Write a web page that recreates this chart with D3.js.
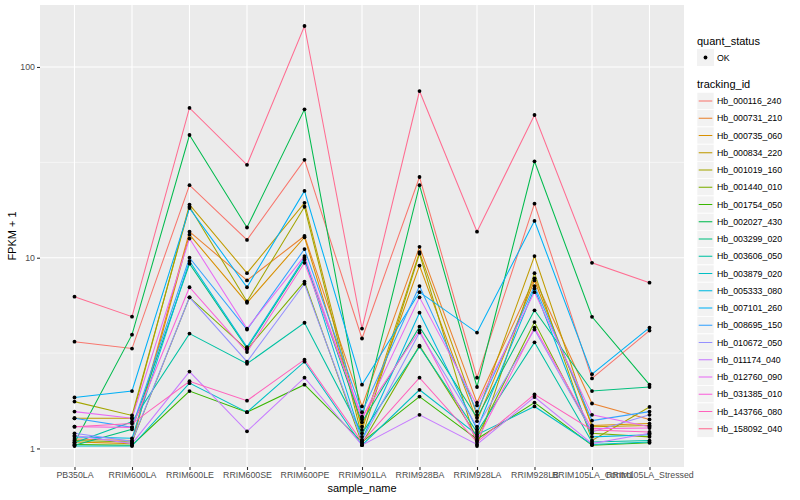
<!DOCTYPE html>
<html>
<head>
<meta charset="utf-8">
<script src="https://cdn.jsdelivr.net/npm/d3@7"></script>
<style>
  body { margin: 0; background: #fff; }
  text { font-family: "Liberation Sans", Arial, sans-serif; }
</style>
</head>
<body>
<div id="chart"></div>
<script>
// samples on the x axis
var samples = ["PB350LA", "RRIM600LA", "RRIM600LE", "RRIM600SE", "RRIM600PE", "RRIM901LA",
  "RRIM928BA", "RRIM928LA", "RRIM928LB", "RRIM105LA_Control", "RRIM105LA_Stressed"];

var trackingIds = ["Hb_000116_240", "Hb_000731_210", "Hb_000735_060", "Hb_000834_220",
  "Hb_001019_160", "Hb_001440_010", "Hb_001754_050", "Hb_002027_430", "Hb_003299_020",
  "Hb_003606_050", "Hb_003879_020", "Hb_005333_080", "Hb_007101_260", "Hb_008695_150",
  "Hb_010672_050", "Hb_011174_040", "Hb_012760_090", "Hb_031385_010", "Hb_143766_080",
  "Hb_158092_040"];

// FPKM + 1, one row per tracking_id, columns in sample order
var fpkm = [
  [3.63, 3.34, 24, 12.4, 32.6, 3.77, 26.5, 2.35, 19.2, 2.33, 4.15],
  [1.12, 1.1, 13.7, 7.6, 13, 1.66, 11.4, 1.74, 7.8, 1.72, 1.42],
  [1.08, 1.06, 13.2, 5.8, 12.8, 1.3, 9.1, 1.39, 7.6, 1.32, 1.35],
  [1.44, 1.44, 19, 8.3, 19.4, 1.25, 10.7, 1.5, 10.2, 1.3, 1.32],
  [1.76, 1.49, 18.5, 5.9, 18.5, 1.15, 10.5, 1.03, 8.3, 1.1, 1.65],
  [1.1, 1.08, 6.2, 3.3, 7.5, 1.06, 3.46, 1.15, 4.6, 1.2, 1.15],
  [1.05, 1.04, 2.0, 1.55, 2.16, 1.08, 1.87, 1.12, 1.74, 1.04, 1.07],
  [1.07, 3.95, 44, 14.4, 60, 1.45, 24, 2.1, 32, 4.9, 2.16],
  [1.04, 1.26, 9.3, 3.35, 9.8, 1.37, 4.35, 1.45, 5.3, 2.0, 2.1],
  [1.07, 1.38, 4.0, 2.78, 4.56, 1.2, 3.42, 1.22, 3.6, 1.08, 1.1],
  [1.03, 1.03, 2.2, 1.55, 2.85, 1.04, 2.03, 1.18, 1.66, 1.05, 1.08],
  [1.15, 1.13, 9.6, 3.4, 10, 1.11, 5.15, 1.26, 6.9, 1.15, 1.18],
  [1.85, 2.0, 18.2, 7.0, 22.4, 2.16, 6.6, 4.05, 15.6, 2.45, 4.3],
  [1.44, 1.29, 10, 4.2, 11.1, 1.55, 7.1, 1.56, 7.1, 1.4, 1.56],
  [1.2, 1.09, 6.2, 2.85, 7.3, 1.1, 4.05, 1.3, 4.2, 1.22, 1.5],
  [1.17, 1.06, 2.53, 1.23, 2.35, 1.04, 1.5, 1.05, 1.86, 1.06, 1.2],
  [1.56, 1.44, 12.6, 4.25, 10.2, 1.42, 6.2, 1.68, 6.6, 1.5, 1.3],
  [1.3, 1.29, 7.0, 3.2, 9.4, 1.47, 4.15, 1.1, 4.3, 1.27, 1.28],
  [1.3, 1.35, 2.25, 1.78, 2.92, 1.08, 2.35, 1.08, 1.92, 1.25, 1.22],
  [6.25, 4.91, 61, 30.7, 164, 4.25, 74.8, 13.7, 56, 9.4, 7.4]
];

var yTicks = [1, 10, 100];
var yMinor = [Math.sqrt(10), Math.sqrt(1000)];

// ggplot hue palette for 20 levels
var palette = ["#F8766D", "#EA8331", "#D89000", "#C09B00", "#A3A500", "#7CAE00", "#39B600",
  "#00BB4E", "#00BF7D", "#00C1A3", "#00BFC4", "#00BAE0", "#00B0F6", "#35A2FF", "#9590FF",
  "#C77CFF", "#E76BF3", "#FA62DB", "#FF62BC", "#FF6C91"];

var svgWidth = 800;
var svgHeight = 500;
var margin = { top: 5, right: 116, bottom: 33, left: 40 };
var width = svgWidth - margin.left - margin.right;
var height = svgHeight - margin.top - margin.bottom;

var svg = d3.select("#chart").append("svg")
  .attr("width", svgWidth)
  .attr("height", svgHeight);

var chartGroup = svg.append("g")
  .attr("transform", `translate(${margin.left}, ${margin.top})`);

// build long data
var series = trackingIds.map((id, i) => ({
  id: id,
  values: samples.map((s, j) => ({ sample: s, value: fpkm[i][j] }))
}));
var allValues = d3.merge(fpkm);

// scales (5% expansion in log space, like ggplot)
var lo = Math.log10(d3.min(allValues));
var hi = Math.log10(d3.max(allValues));
var pad = (hi - lo) * 0.05;
var yScale = d3.scaleLog()
  .domain([Math.pow(10, lo - pad), Math.pow(10, hi + pad)])
  .range([height, 0]);

var step = width / (samples.length - 1 + 1.2);
var xScale = d3.scalePoint()
  .domain(samples)
  .range([step * 0.6, width - step * 0.6]);

var color = d3.scaleOrdinal().domain(trackingIds).range(palette);

// panel background + grid
chartGroup.append("rect")
  .attr("width", width)
  .attr("height", height)
  .attr("fill", "#EBEBEB");

chartGroup.selectAll(".minor")
  .data(yMinor)
  .enter().append("line")
  .attr("x1", 0).attr("x2", width)
  .attr("y1", d => yScale(d)).attr("y2", d => yScale(d))
  .attr("stroke", "#fff").attr("stroke-width", 0.55);

chartGroup.selectAll(".hgrid")
  .data(yTicks)
  .enter().append("line")
  .attr("x1", 0).attr("x2", width)
  .attr("y1", d => yScale(d)).attr("y2", d => yScale(d))
  .attr("stroke", "#fff").attr("stroke-width", 1.1);

chartGroup.selectAll(".vgrid")
  .data(samples)
  .enter().append("line")
  .attr("x1", d => xScale(d)).attr("x2", d => xScale(d))
  .attr("y1", 0).attr("y2", height)
  .attr("stroke", "#fff").attr("stroke-width", 1.1);

// lines
var line = d3.line()
  .x(d => xScale(d.sample))
  .y(d => yScale(d.value));

chartGroup.selectAll(".series")
  .data(series)
  .enter().append("path")
  .attr("d", d => line(d.values))
  .attr("fill", "none")
  .attr("stroke", d => color(d.id))
  .attr("stroke-width", 1.05);

// points
chartGroup.selectAll(".pt")
  .data(d3.merge(series.map(s => s.values)))
  .enter().append("circle")
  .attr("cx", d => xScale(d.sample))
  .attr("cy", d => yScale(d.value))
  .attr("r", 1.9)
  .attr("fill", "#000");

// axes
var leftAxis = d3.axisLeft(yScale)
  .tickValues(yTicks)
  .tickFormat(d3.format("d"))
  .tickSize(3)
  .tickPadding(2);

var yAxis = chartGroup.append("g").call(leftAxis);
yAxis.select(".domain").remove();
yAxis.selectAll("line").attr("stroke", "#333").attr("stroke-width", 1.1);
yAxis.selectAll("text")
  .attr("fill", "#4D4D4D")
  .style("font-size", "8.8px")
  .style("font-family", "Liberation Sans, Arial, sans-serif");

var bottomAxis = d3.axisBottom(xScale)
  .tickSize(3)
  .tickPadding(2);

var xAxis = chartGroup.append("g")
  .attr("transform", `translate(0, ${height})`)
  .call(bottomAxis);
xAxis.select(".domain").remove();
xAxis.selectAll("line").attr("stroke", "#333").attr("stroke-width", 1.1);
xAxis.selectAll("text")
  .attr("fill", "#4D4D4D")
  .style("font-size", "8.8px")
  .style("font-family", "Liberation Sans, Arial, sans-serif");

// axis titles
svg.append("text")
  .attr("x", margin.left + width / 2)
  .attr("y", 492)
  .attr("text-anchor", "middle")
  .style("font-size", "11px")
  .attr("fill", "#000")
  .text("sample_name");

svg.append("text")
  .attr("transform", `translate(16, ${margin.top + height / 2}) rotate(-90)`)
  .attr("text-anchor", "middle")
  .style("font-size", "11px")
  .attr("fill", "#000")
  .text("FPKM + 1");

// legends
var legend = svg.append("g").attr("transform", "translate(697, 0)");

legend.append("text")
  .attr("x", 0).attr("y", 45)
  .style("font-size", "11px")
  .text("quant_status");

legend.append("rect")
  .attr("x", 0).attr("y", 49)
  .attr("width", 17).attr("height", 17)
  .attr("fill", "#F2F2F2");
legend.append("circle")
  .attr("cx", 8.5).attr("cy", 57.5).attr("r", 1.9)
  .attr("fill", "#000");
legend.append("text")
  .attr("x", 20).attr("y", 60.5)
  .style("font-size", "8.8px")
  .text("OK");

legend.append("text")
  .attr("x", 0).attr("y", 88)
  .style("font-size", "11px")
  .text("tracking_id");

var keyStep = 17.25;
var keys = legend.selectAll(".key")
  .data(trackingIds)
  .enter().append("g")
  .attr("transform", (d, i) => `translate(0, ${92.5 + i * keyStep})`);

keys.append("rect")
  .attr("width", 17).attr("height", 17)
  .attr("fill", "#F2F2F2")
  .attr("stroke", "#fff")
  .attr("stroke-width", 0.6);

keys.append("line")
  .attr("x1", 1.7).attr("x2", 15.3)
  .attr("y1", 8.5).attr("y2", 8.5)
  .attr("stroke", d => color(d))
  .attr("stroke-width", 1.05);

keys.append("text")
  .attr("x", 20).attr("y", 11.5)
  .style("font-size", "8.8px")
  .text(d => d);
</script>
</body>
</html>
